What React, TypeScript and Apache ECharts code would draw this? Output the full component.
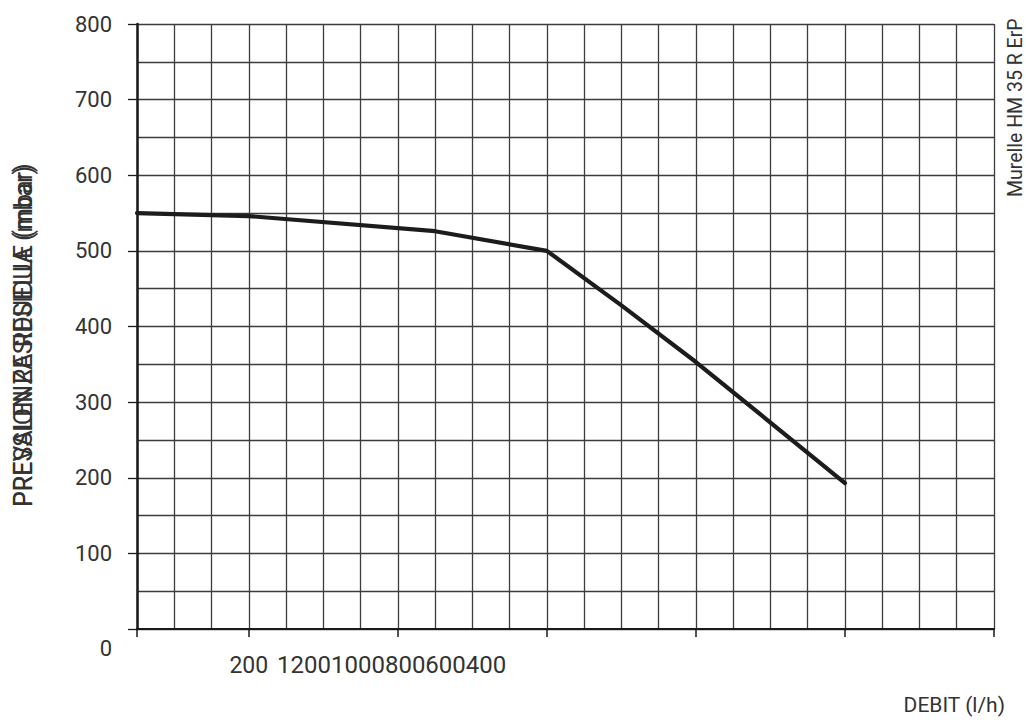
import React, { useEffect, useRef } from "react";
import * as echarts from "echarts";

// ---- data ----
const flowValues = [50, 200, 450, 600, 700, 800, 1000]; // DEBIT (l/h)
const pressureValues = [550, 546, 526, 500, 428, 353, 193]; // mbar
const xTickValues = [50, 200, 400, 600, 800, 1000, 1200];
const xLabelValues = [200];
const xExtraLabels = ["1200", "1000", "800", "600", "400"];
const yTickLabels = [0, 100, 200, 300, 400, 500, 600, 700, 800];
const yTitles = ["PRESSION RESIDUELLE (mbar)", "PREVALENZA RESIDUA (mbar)"];
const xTitle = "DEBIT (l/h)";
const modelName = "Murelle HM 35 R ErP";

const FONT = "Roboto";
const TXT = "#333";

export default function App() {
  const ref = useRef<HTMLDivElement>(null);
  useEffect(() => {
    if (!ref.current) return;
    const chart = echarts.init(ref.current, null, { renderer: "svg" });
    const gridLine = { show: true, lineStyle: { color: "#3c3c3c", width: 1.3 } };
    chart.setOption({
      animation: false,
      backgroundColor: "#fff",
      grid: {
        left: 137,
        right: 32,
        top: 24,
        bottom: 91,
        containLabel: false,
        outerBoundsMode: "none",
      },
      xAxis: [
        {
          type: "value",
          position: "bottom",
          min: 50,
          max: 1200,
          interval: 50,
          axisLine: { show: true, lineStyle: { color: "#1a1a1a", width: 2.2 } },
          axisTick: { show: false },
          axisLabel: { show: false },
          splitLine: gridLine,
        },
        {
          type: "value",
          position: "bottom",
          min: 50,
          max: 1200,
          axisLine: { show: false },
          axisTick: {
            show: true,
            length: 8,
            customValues: xTickValues,
            lineStyle: { color: "#1a1a1a", width: 1.5 },
          },
          axisLabel: {
            show: true,
            customValues: xLabelValues,
            margin: 25,
            color: TXT,
            fontFamily: FONT,
            fontSize: 23,
            verticalAlign: "top",
          },
          splitLine: { show: false },
        },
      ],
      yAxis: [
        {
          type: "value",
          position: "left",
          min: 0,
          max: 800,
          interval: 50,
          axisLine: { show: false },
          axisTick: { show: false },
          axisLabel: { show: false },
          splitLine: gridLine,
        },
        {
          type: "value",
          position: "left",
          min: 0,
          max: 800,
          interval: 100,
          axisLine: { show: true, lineStyle: { color: "#1a1a1a", width: 2.5 } },
          axisTick: { show: true, length: 9, lineStyle: { color: "#1a1a1a", width: 1.3 } },
          axisLabel: {
            show: true,
            margin: 25,
            color: TXT,
            fontFamily: FONT,
            fontSize: 22,
            formatter: (v: number) =>
              v === 0 ? "{zero|0}" : yTickLabels.includes(v) ? String(v) : "",
            rich: {
              zero: {
                fontFamily: FONT,
                fontSize: 22,
                color: TXT,
                padding: [38, 0, 0, 0],
              },
            },
          },
          splitLine: { show: false },
        },
      ],
      series: [
        {
          type: "line",
          xAxisIndex: 0,
          yAxisIndex: 0,
          data: flowValues.map((x, i) => [x, pressureValues[i]]),
          showSymbol: false,
          symbol: "none",
          lineStyle: { color: "#1c1c1c", width: 4.2, join: "round", cap: "round" },
          z: 5,
        },
      ],
      graphic: [
        {
          type: "text",
          x: 277,
          y: 653,
          style: {
            text: xExtraLabels.join(""),
            fill: TXT,
            font: `24px ${FONT}`,
            textAlign: "left",
            textVerticalAlign: "top",
          },
        },
        {
          type: "text",
          x: 1005,
          y: 705,
          style: {
            text: xTitle,
            fill: TXT,
            font: `21px ${FONT}`,
            textAlign: "right",
            textVerticalAlign: "middle",
          },
        },
        {
          type: "text",
          x: 1015,
          y: 197,
          rotation: Math.PI / 2,
          style: {
            text: modelName,
            fill: TXT,
            font: `19.5px ${FONT}`,
            textAlign: "left",
            textVerticalAlign: "middle",
          },
        },
        ...yTitles.map((t) => ({
          type: "text",
          x: 23,
          y: 507,
          rotation: Math.PI / 2,
          style: {
            text: t,
            fill: TXT,
            font: `25px ${FONT}`,
            textAlign: "left",
            textVerticalAlign: "middle",
          },
        })),
      ],
    });
    return () => chart.dispose();
  }, []);
  return (
    <div
      ref={ref}
      style={{ position: "fixed", left: 0, top: 0, width: 1026, height: 720 }}
    />
  );
}
